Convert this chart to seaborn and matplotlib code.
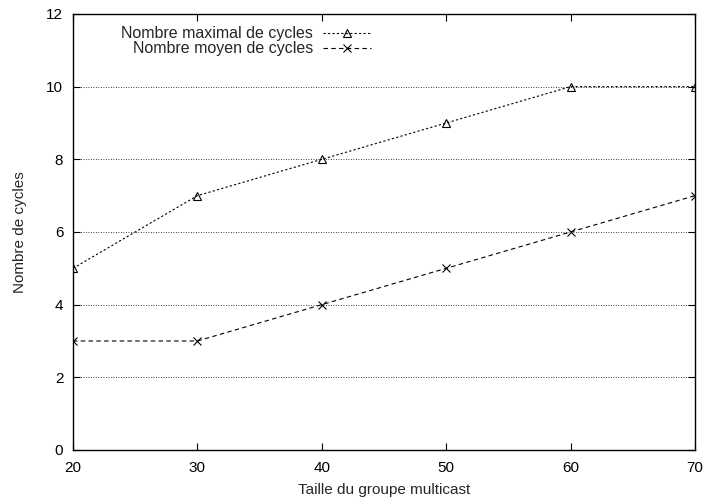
import matplotlib
matplotlib.use("Agg")
import matplotlib.pyplot as plt
import seaborn as sns
import pandas as pd

taille = [20, 30, 40, 50, 60, 70]
max_cycles = [5, 7, 8, 9, 10, 10]
moy_cycles = [3, 3, 4, 5, 6, 7]
label_max = "Nombre maximal de cycles"
label_moy = "Nombre moyen de cycles"

sns.set_style("ticks")
plt.rcParams['font.family'] = ['Liberation Sans', 'DejaVu Sans']

df = pd.DataFrame({"x": taille + taille,
                   "y": max_cycles + moy_cycles,
                   "s": [label_max] * len(taille) + [label_moy] * len(taille)})

fig = plt.figure(figsize=(7.04, 4.99), dpi=100)
ax = fig.add_axes([0.1037, 0.0982, 0.8835, 0.8738])

sns.lineplot(data=df[df.s == label_max], x="x", y="y", ax=ax, color="black",
             linewidth=0.8, linestyle=(0, (2, 2)), marker="^", markersize=6,
             markerfacecolor="none", markeredgecolor="black", markeredgewidth=0.8,
             label=label_max)
sns.lineplot(data=df[df.s == label_moy], x="x", y="y", ax=ax, color="black",
             linewidth=0.8, linestyle=(0, (4, 3)), marker="x", markersize=6,
             markeredgecolor="black", markeredgewidth=0.8,
             label=label_moy)

ax.set_xlim(20, 70)
ax.set_ylim(0, 12)
ax.set_xticks([20, 30, 40, 50, 60, 70])
ax.set_yticks([0, 2, 4, 6, 8, 10, 12])
ax.yaxis.grid(True, linestyle=(0, (1, 2)), color="black", linewidth=0.6)
ax.tick_params(direction="in", top=True, right=True, labelsize=11, length=5,
               width=0.8, colors="black")
ax.tick_params(axis="x", pad=8)
ax.tick_params(axis="y", pad=7)
for s in ax.spines.values():
    s.set_visible(True)
    s.set_linewidth(1.0)
    s.set_color("black")
ax.set_xlabel("Taille du groupe multicast", fontsize=11, labelpad=6)
ax.set_ylabel("Nombre de cycles", fontsize=11, labelpad=14)
ax.legend(loc="upper right", bbox_to_anchor=(382 / 704, 0.97),
          bbox_transform=fig.transFigure, frameon=False,
          markerfirst=False, fontsize=11.5, handlelength=3.0, labelspacing=0.0,
          borderpad=0.2, handletextpad=0.63)
fig.savefig("out.png", dpi=100)
